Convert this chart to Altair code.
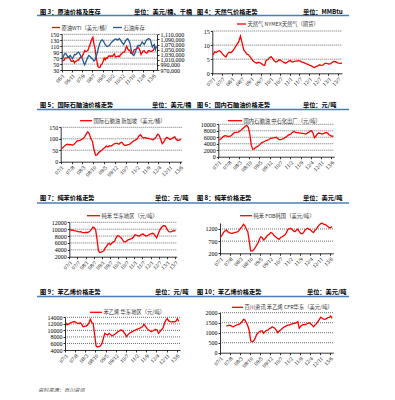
import altair as alt
import pandas as pd

# ---------------- data (monthly readings from the reference) ----------------
wti = [62, 62, 63, 70, 71, 71, 75, 73, 64, 59, 59, 62,
       54, 59, 60, 64, 63, 68, 74, 72, 80, 86, 95, 92,
       93, 95, 105, 113, 125, 134, 140, 117, 104, 77, 57, 41,
       38, 39, 48, 50, 59, 70, 64, 71, 69, 76, 78, 75,
       78, 76, 81, 84, 74, 75, 76, 77, 75, 82, 84, 89,
       90, 90, 103, 110, 101, 96, 97, 86, 86, 86, 97, 99,
       100, 102, 106, 103, 95, 82, 88, 94, 95, 90, 87, 88,
       95, 95, 93, 92, 95, 96, 105, 107, 106]
stock_k = [1007, 1020, 1031, 1035, 1033, 1025, 1020, 1024, 1027, 1020, 1014, 1022,
           1031, 1030, 1033, 1038, 1040, 1034, 1027, 1020, 1012, 998, 990, 1000,
           1010, 1020, 1027, 1024, 1020, 1015, 1012, 1005, 1008, 1020, 1033, 1050,
           1066, 1078, 1085, 1088, 1085, 1078, 1070, 1065, 1062, 1064, 1066, 1072,
           1078, 1082, 1085, 1090, 1092, 1090, 1088, 1091, 1093, 1087, 1080, 1075,
           1070, 1078, 1085, 1090, 1093, 1086, 1078, 1058, 1035, 1030, 1027, 1036,
           1047, 1058, 1066, 1066, 1064, 1072, 1080, 1075, 1070, 1078, 1086, 1090,
           1093, 1092, 1090, 1075, 1060, 1066, 1070, 1050, 1062]
gas = [6.5, 7.6, 7.4, 7.8, 8.0, 7.6, 6.8, 6.2, 5.8, 6.9, 7.5, 7.3,
       7.8, 8.6, 9.5, 10.3, 11.3, 13.2, 11.0, 8.4, 7.6, 6.8, 6.6, 5.8,
       5.0, 4.3, 3.9, 3.6, 3.9, 3.8, 3.5, 3.0, 2.8, 4.6, 4.8, 5.5,
       5.9, 5.2, 4.4, 4.0, 4.2, 4.8, 4.6, 4.2, 3.9, 3.6, 3.9, 4.3,
       4.5, 4.0, 4.1, 4.3, 4.3, 4.5, 4.4, 4.0, 3.9, 3.6, 3.3, 3.2,
       2.8, 2.6, 2.3, 2.0, 2.5, 2.6, 3.0, 2.8, 2.9, 3.4, 3.6, 3.4,
       3.3, 3.4, 3.9, 4.2, 4.1, 3.8, 3.6, 3.5, 3.6]
naphtha_sg = [57, 62, 68, 74, 76, 74, 75, 72, 75, 82, 90, 92,
              93, 97, 100, 108, 120, 130, 122, 100, 88, 52, 28, 30,
              40, 45, 50, 57, 62, 68, 64, 70, 68, 73, 78, 80,
              80, 76, 82, 85, 75, 70, 72, 74, 76, 82, 88, 92,
              95, 102, 112, 118, 108, 103, 106, 102, 103, 100, 98, 96,
              100, 108, 120, 115, 98, 78, 86, 100, 106, 102, 97, 100,
              105, 108, 98, 92, 94, 97]
naphtha_cn = [5200, 5300, 5800, 6200, 6500, 6400, 6300, 6300, 6400, 6800, 7300, 7500,
              7500, 7600, 7800, 8200, 8600, 9000, 9400, 9700, 9000, 7000, 3500, 2300,
              2400, 2900, 3100, 3400, 3800, 4300, 4500, 4700, 5000, 5100, 5300, 5600,
              5700, 5800, 5900, 6000, 5600, 5300, 5300, 5400, 5600, 5900, 6200, 6600,
              6800, 7000, 7500, 7800, 7600, 7400, 7400, 7300, 7300, 7200, 7100, 7000,
              7200, 7500, 7900, 8000, 7400, 5900, 6400, 7000, 7300, 7200, 7000, 7100,
              7300, 7500, 7300, 6800, 6500, 6300, 6400]
benzene_cn = [9900, 9700, 9800, 9600, 9500, 9400, 9300, 9200, 9300, 9100, 9000, 9000,
              9100, 9000, 9200, 9500, 10000, 10600, 10400, 9800, 7000, 3800, 3200, 3300,
              3500, 3700, 4500, 5000, 5600, 5900, 5500, 6000, 6300, 6500, 7500, 8100,
              8000, 7700, 7400, 6800, 6300, 6300, 6600, 6900, 7000, 7200, 7400, 7800,
              8400, 8300, 8100, 8000, 8200, 8500, 8600, 8300, 8000, 8100, 8300, 8600,
              8700, 8800, 8600, 8000, 7500, 8500, 9500, 10200, 10700, 11000, 11000, 10500,
              9700, 9300, 9200, 9300, 9500, 9600, 9500]
benzene_kr = [880, 950, 1050, 1120, 1160, 1100, 1050, 1030, 1020, 1040, 1060, 1070,
              1090, 1150, 1230, 1300, 1390, 1330, 1200, 1090, 700, 300, 290, 330,
              420, 520, 610, 750, 880, 850, 750, 800, 880, 950, 980, 1050,
              1030, 960, 900, 850, 800, 780, 850, 880, 920, 960, 1050, 1180,
              1200, 1230, 1180, 1120, 1090, 1150, 1190, 1100, 1020, 1000, 1050, 1150,
              1200, 1230, 1180, 1160, 1100, 1050, 1150, 1200, 1300, 1370, 1420, 1440,
              1400, 1390, 1350, 1300, 1250, 1260, 1300]
styrene_cn = [12400, 11700, 11900, 12200, 12400, 12600, 12700, 12500, 12200, 12100, 12300, 12000,
              11100, 11200, 11300, 11600, 12200, 13400, 12400, 12100, 8500, 5200, 4900, 5000,
              5300, 6000, 7500, 9100, 8800, 8600, 9100, 8700, 8300, 8600, 8800, 9200,
              9600, 9800, 10100, 10000, 9500, 8900, 8100, 8700, 9100, 9400, 9600, 9900,
              10100, 10300, 10500, 10600, 10900, 11100, 11900, 11300, 10600, 10200, 9900, 9600,
              9800, 10100, 10300, 10200, 9100, 9600, 10200, 10600, 12000, 13100, 13600, 12900,
              12700, 12600, 12700, 12600, 12800, 13600, 12700]
styrene_cfr = [1330, 1350, 1380, 1360, 1320, 1300, 1350, 1380,
               1400, 1430, 1470, 1560, 1670, 1640, 1500, 1350, 1100, 600, 550, 580,
               700, 880, 980, 1050, 1080, 1100, 980, 1050, 1120, 1130, 1200, 1230,
               1300, 1260, 1220, 1120, 1000, 1080, 1130, 1200, 1270, 1300, 1340, 1380,
               1380, 1420, 1440, 1460, 1470, 1500, 1550, 1220, 1320, 1380, 1400, 1410,
               1430, 1470, 1500, 1450, 1380, 1300, 1380, 1450, 1550, 1650, 1770, 1720,
               1680, 1670, 1700, 1750, 1760, 1830, 1720]

ticks_p3 = ["2006-01", "2006-11", "2007-09", "2008-07", "2009-05", "2010-02",
            "2010-12", "2011-10", "2012-08", "2013-06"]
ticks_6m = ["2007-01", "2007-07", "2008-01", "2008-07", "2009-01", "2009-07", "2010-01",
            "2010-07", "2011-01", "2011-07", "2012-01", "2012-07", "2013-01", "2013-07"]
ticks_7m = ["2007-01", "2007-08", "2008-03", "2008-10", "2009-05", "2009-12",
            "2010-07", "2011-02", "2011-09", "2012-04", "2012-11", "2013-06"]

# ---------------- styling / layout ----------------
RED = "#FF0000"
BLUE = "#1F5B92"
HEAD_BLUE = "#4A7EBB"
SERIF = "Liberation Serif"
CJK = "Noto Sans CJK SC"
M = 8            # page margin
W, H = 379, 384  # drawing area


def c(v):
    return v - M


def month_series(y, m, n):
    out = []
    for i in range(n):
        yy = y + (m - 1 + i) // 12
        mm = (m - 1 + i) % 12 + 1
        out.append(f"{yy:04d}-{mm:02d}-15")
    return out


def dt(s):
    p = [int(v) for v in s.split("-")]
    return alt.DateTime(year=p[0], month=p[1], date=p[2] if len(p) > 2 else 1)


AX = dict(labelFont=SERIF, labelFontSize=6, labelColor="#000", domainColor="#000",
          domainWidth=0.8, tickColor="#000", tickSize=2, tickWidth=0.8, grid=False,
          title=None, labelPadding=1, labelOverlap=False, labelFlush=False)
AXX = {**AX, "labelFontSize": 5.5}

layers = []
dummy = pd.DataFrame({"a": [0]})


def text(s, x, y, size, weight="normal", color="#000", style="normal"):
    layers.append(alt.Chart(pd.DataFrame({"t": [s]})).mark_text(
        align="left", baseline="middle", font=CJK, fontSize=size, fontWeight=weight,
        color=color, fontStyle=style).encode(text="t:N", x=alt.value(c(x)), y=alt.value(c(y))))


def hrule(x0, x1, y, color, width):
    layers.append(alt.Chart(dummy).mark_rule(color=color, strokeWidth=width).encode(
        x=alt.value(c(x0)), x2=alt.value(c(x1)), y=alt.value(c(y))))


def legend(x0, x1, y, color, label):
    hrule(x0, x1, y, color, 1.3)
    text(label, x1 + 1.5, y, 5.3, color="#333")


def panel(box, xdom, xticks, dates, vals, ydom, yticks, grid, yfmt="d"):
    x0, x1, yb, yt = box
    xs = alt.Scale(domain=[dt(xdom[0]), dt(xdom[1])], range=[c(x0), c(x1)], nice=False)
    ys = alt.Scale(domain=ydom, range=[c(yb), c(yt)], nice=False, zero=False)
    layers.append(alt.Chart(pd.DataFrame({"g": grid})).mark_rule(
        color="#333", strokeDash=[1, 1], strokeWidth=0.7).encode(
        y=alt.Y("g:Q", scale=ys, axis=None), x=alt.value(c(x0)), x2=alt.value(c(x1))))
    layers.append(alt.Chart(pd.DataFrame({"date": dates, "v": vals})).mark_line(
        color=RED, strokeWidth=1.3, clip=True).encode(
        x=alt.X("date:T", scale=xs, axis=alt.Axis(
            orient="bottom", offset=c(yb) - H, values=[dt(t) for t in xticks],
            format="%y/%-m", labelAngle=-45, **AXX)),
        y=alt.Y("v:Q", scale=ys, axis=alt.Axis(
            orient="left", offset=-c(x0), values=yticks, format=yfmt, **AX))))
    return xs


# ---- headers ----
HS = 6.2
rows = [
    (11.8, "图 3：原油价格及库存", 40, "单位：美元/桶、千桶", 134, "图 4：天然气价格走势", 197, "单位：MMBtu", 303, 15.5),
    (105, "图 5：国际石脑油价格走势", 40, "单位：美元/桶", 152, "图 6：国内石脑油价格走势", 197, "单位：元/吨", 303, 109.5),
    (198, "图 7：纯苯价格走势", 40, "单位：元/吨", 155, "图 8：纯苯价格走势", 197, "单位：美元/吨", 303, 203),
    (291.5, "图 9：苯乙烯价格走势", 40, "单位：元/吨", 155, "图 10：苯乙烯价格走势", 197, "单位：美元/吨", 307, 296.5),
]
for y, t1, x1, u1, xu1, t2, x2, u2, xu2, ry in rows:
    hrule(37, 349, ry, HEAD_BLUE, 1.5)
    text(t1, x1, y, HS, weight="bold")
    text(u1, xu1, y, HS, weight="bold")
    text(t2, x2, y, HS, weight="bold")
    text(u2, xu2, y, HS, weight="bold")

# ---- Figure 3 (dual axis) ----
d3 = month_series(2006, 1, len(wti))
box3 = (61.7, 157, 70, 34.3)
xs3 = panel(box3, ["2006-01-01", "2013-10-01"], ticks_p3, d3, wti,
            [30, 150], [30, 50, 70, 90, 110, 130, 150], [50, 70, 90, 110, 130, 150])
ys3r = alt.Scale(domain=[970000, 1110000], range=[c(70), c(34.3)], nice=False, zero=False)
layers.append(alt.Chart(pd.DataFrame({"date": d3, "s": [v * 1000 for v in stock_k]})).mark_line(
    color=BLUE, strokeWidth=1.3, clip=True).encode(
    x=alt.X("date:T", scale=xs3, axis=None),
    y=alt.Y("s:Q", scale=ys3r, axis=alt.Axis(
        orient="right", offset=c(157) - W,
        values=list(range(970000, 1110001, 20000)), format=",d", **AX))))
legend(52, 60, 27.5, RED, "原油WTI（美元/桶）")
legend(113, 122, 27.5, BLUE, "石油库存")

# ---- Figure 4 ----
panel((212.3, 342, 73.3, 31), ["2007-01-01", "2013-09-15"], ticks_6m,
      month_series(2007, 1, len(gas)), gas, [0, 15], [0, 5, 10, 15], [5, 10, 15])
legend(237, 246, 24, RED, "天然气 NYMEX天然气（期货）")

# ---- Figure 5 ----
panel((60.7, 181.7, 161.7, 127.3), ["2007-01-01", "2013-07-01"], ticks_7m,
      month_series(2007, 1, len(naphtha_sg)), naphtha_sg, [0, 150], [0, 50, 100, 150], [50, 100, 150])
legend(80, 92, 120.7, RED, "国际石脑油 新加坡（美元/桶）")

# ---- Figure 6 ----
panel((218.3, 334.3, 156.7, 124.3), ["2007-01-01", "2013-08-01"], ticks_7m,
      month_series(2007, 1, len(naphtha_cn)), naphtha_cn, [0, 10000],
      [0, 2000, 4000, 6000, 8000, 10000], [2000, 4000, 6000, 8000, 10000])
legend(228, 242, 120.7, RED, "国内石脑油 中石化出厂（元/吨）")

# ---- Figure 7 ----
panel((69.3, 176.7, 256.7, 222.3), ["2007-01-01", "2013-08-08"], ticks_6m,
      month_series(2007, 1, len(benzene_cn)), benzene_cn, [2000, 12000],
      [2000, 4000, 6000, 8000, 10000, 12000], [4000, 6000, 8000, 10000, 12000])
legend(87, 100, 215.7, RED, "纯苯 华东地区（元/吨）")

# ---- Figure 8 ----
panel((220, 333.3, 253.3, 222.9), ["2007-01-01", "2013-08-10"], ticks_7m,
      month_series(2007, 1, len(benzene_kr)), benzene_kr, [200, 1450],
      [200, 700, 1200], [700, 1200])
legend(240, 252, 215.7, RED, "纯苯 FOB韩国（美元/吨）")

# ---- Figure 9 ----
panel((65, 180, 350, 317.3), ["2007-01-01", "2013-08-10"], ticks_7m,
      month_series(2007, 1, len(styrene_cn)), styrene_cn, [4000, 14000],
      [4000, 6000, 8000, 10000, 12000, 14000], [6000, 8000, 10000, 12000, 14000])
legend(90, 102, 312.3, RED, "苯乙烯 华东地区（元/吨）")

# ---- Figure 10 ----
panel((220, 333.3, 352.7, 312.7), ["2007-01-01", "2013-08-10"], ticks_7m,
      month_series(2007, 5, len(styrene_cfr)), styrene_cfr, [0, 2000],
      [0, 500, 1000, 1500, 2000], [500, 1000, 1500, 2000])
legend(232, 243, 307.3, RED, "百川资讯 苯乙烯 CFR华东（美元/吨）")

# ---- footer ----
text("资料来源：百川资讯", 38, 390, 5.2, color="#555", style="italic")

chart = alt.layer(*layers).resolve_scale(x="independent", y="independent").properties(
    width=W, height=H, padding=0, background="white",
    autosize=alt.AutoSizeParams(type="none"),
).configure_view(stroke=None)

chart.save("out.html", embed_options={"renderer": "svg", "actions": False})
